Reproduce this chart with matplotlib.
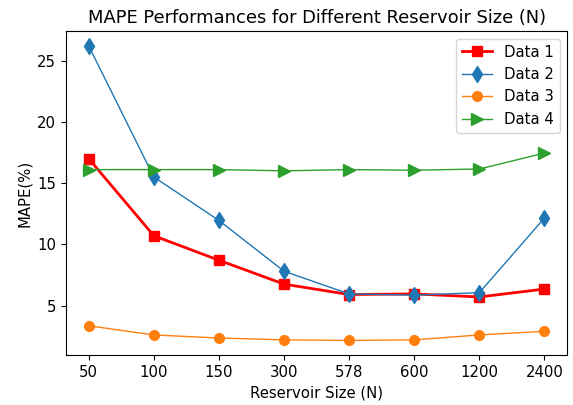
import matplotlib.pyplot as plt

sizes = ["50", "100", "150", "300", "578", "600", "1200", "2400"]
data1 = [17.0, 10.7, 8.7, 6.75, 5.9, 5.95, 5.7, 6.35]
data2 = [26.2, 15.5, 11.95, 7.8, 5.95, 5.85, 6.05, 12.15]
data3 = [3.35, 2.6, 2.35, 2.2, 2.15, 2.2, 2.6, 2.9]
data4 = [16.1, 16.1, 16.1, 16.0, 16.1, 16.05, 16.15, 17.45]

plt.rcParams["font.size"] = 10.7

fig, ax = plt.subplots(figsize=(5.73, 4.05), dpi=100)
x = range(len(sizes))
ax.plot(x, data1, color="red", marker="s", markersize=7, linewidth=2, label="Data 1")
ax.plot(x, data2, color="#1f77b4", marker="d", markersize=8, linewidth=1, label="Data 2")
ax.plot(x, data3, color="#ff7f0e", marker="o", markersize=7, linewidth=1, label="Data 3")
ax.plot(x, data4, color="#2ca02c", marker=">", markersize=8, linewidth=1, label="Data 4")

ax.set_xticks(list(x), labels=sizes)
ax.set_xlabel("Reservoir Size (N)")
ax.set_ylabel("MAPE(%)")
ax.set_title("MAPE Performances for Different Reservoir Size (N)")
ax.legend(loc="upper right")

fig.subplots_adjust(left=0.115, right=0.99, top=0.923, bottom=0.123)
fig.savefig("out.png")
